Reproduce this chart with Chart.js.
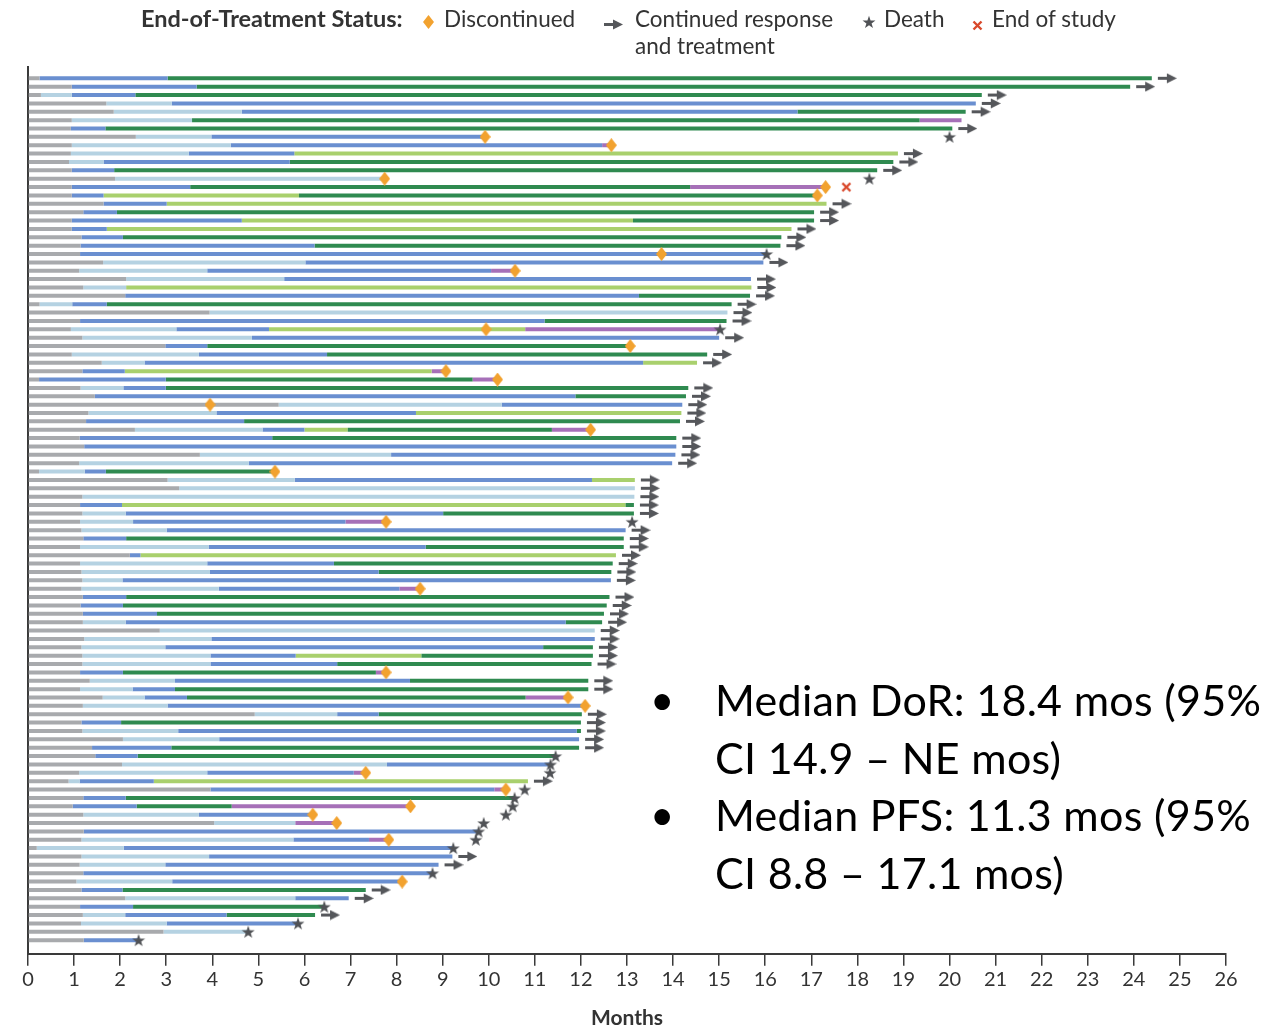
<!DOCTYPE html>
<html>
<head>
<meta charset="utf-8">
<script src="https://cdn.jsdelivr.net/npm/chart.js@4.4.1/dist/chart.umd.min.js"></script>
<style>
  body { margin: 0; background: #fff; }
  #wrap { position: relative; width: 1261px; height: 1031px; overflow: hidden; font-family: Lato, sans-serif; color: #333; }
  #swim { position: absolute; left: 0; top: 0; }
  .lg { position: absolute; font-size: 22.5px; line-height: 27px; white-space: nowrap; }
  .ico { position: absolute; }
  .note { position: absolute; left: 715px; top: 671px; font-size: 43px; letter-spacing: 0.3px; line-height: 57.5px; color: #000; white-space: nowrap; }
  .dot { position: absolute; left: 650px; font-size: 42px; line-height: 57.5px; color: #000; }
</style>
</head>
<body>
<div id="wrap">
  <canvas id="swim" width="1261" height="1031"></canvas>

  <div class="lg" style="left:141px;top:5px;font-weight:700;font-size:23.5px">End-of-Treatment Status:</div>
  <span class="ico" id="icoDisc" style="left:423px;top:13px"></span>
  <div class="lg" style="left:444px;top:5px">Discontinued</div>
  <span class="ico" id="icoCont" style="left:604px;top:14px"></span>
  <div class="lg" style="left:635px;top:5px">Continued response<br>and treatment</div>
  <span class="ico" id="icoDeath" style="left:862px;top:13px"></span>
  <div class="lg" style="left:884px;top:5px">Death</div>
  <span class="ico" id="icoEos" style="left:972px;top:15px"></span>
  <div class="lg" style="left:992px;top:5px">End of study</div>

  <div class="dot" style="top:671px">•</div>
  <div class="dot" style="top:786px">•</div>
  <div class="note">Median DoR: 18.4 mos (95%<br>CI 14.9 – NE mos)<br>Median PFS: 11.3 mos (95%<br>CI 8.8 – 17.1 mos)</div>
</div>

<script>
// one string per patient, top to bottom: phase code + month where that phase ends
// a grey, l light blue, b blue, g dark green, y light green, p purple
const phases = [
  "a0.25 b3.03 g24.39",
  "a0.95 b3.66 g23.92",
  "a0.28 l0.95 b2.33 g20.7",
  "a1.70 l3.12 b20.57",
  "a1.86 l4.64 b16.7 g20.35",
  "a0.95 l3.56 g19.35 p20.26",
  "a0.93 b1.68 g20.06",
  "a2.34 l3.98 b9.92",
  "a0.95 l4.4 b12.46 p12.66",
  "a0.93 l3.49 b5.78 y18.88",
  "a0.89 l1.64 b5.68 g18.78",
  "a0.95 b1.87 g18.43",
  "a1.89 l7.74",
  "a0.95 b3.52 g14.37 p17.31",
  "a0.95 b1.64 y5.88 g17.13",
  "a1.64 b3.01 y17.33",
  "a1.2 b1.93 g17.06",
  "a0.95 b4.64 y13.13 g17.06",
  "a0.95 b1.71 y16.57",
  "a1.16 b2.06 g16.35",
  "a1.14 b6.22 g16.33",
  "a1.13 b16.03",
  "a1.63 l6.02 b15.96",
  "a1.11 l3.89 b10.05 p10.57",
  "a2.13 l5.56 b15.69",
  "a1.2 l2.13 y15.7",
  "a2.11 b13.26 g15.67",
  "a0.25 l0.96 b1.71 g15.27",
  "a3.94 l15.18",
  "a1.13 b11.21 g15.16",
  "a0.93 l3.22 b5.23 y10.79 p15.02",
  "a1.18 l4.86 b15.0",
  "a2.98 b3.89 g13.07",
  "a0.95 l3.71 b6.49 g14.74",
  "a1.6 l2.53 b13.35 y14.52",
  "a1.18 b2.1 y8.76 p9.07",
  "a0.24 b2.99 g9.65 p10.19",
  "a1.14 l2.07 b2.99 g14.33",
  "a1.45 b11.88 g14.28",
  "a5.44 l10.28 b14.2",
  "a1.31 l4.09 b8.42 y14.18",
  "a1.26 b4.69 g14.15",
  "a2.32 l5.09 b6.0 y6.94 g11.37 p12.21",
  "a1.12 b5.3 g14.07",
  "a1.22 b14.07",
  "a3.73 l7.88 b14.05",
  "a1.11 l4.79 b13.98",
  "a0.24 l1.23 b1.69 g5.36",
  "a3.03 l5.79 b12.24 y13.17",
  "a3.28 l13.17",
  "a1.18 l13.16",
  "a1.13 b2.04 y12.97 g13.15",
  "a1.18 l2.12 b9.01 g13.15",
  "a1.13 l2.28 b6.89 p7.77",
  "a1.16 l3.01 b12.97",
  "a1.2 b2.13 g12.93",
  "a1.13 l3.92 b8.63 g12.93",
  "a2.21 b2.44 y12.76",
  "a1.13 l3.89 b6.64 g12.69",
  "a1.16 l3.95 b7.61 g12.66",
  "a1.18 l2.05 b12.65",
  "a1.16 l4.14 b8.06 p8.51",
  "a1.19 b2.13 g12.62",
  "a1.14 b2.06 g12.56",
  "a1.19 b2.8 g12.5",
  "a1.19 l2.12 b11.67 g12.46",
  "a2.86 l12.3",
  "a1.22 l3.98 b12.3",
  "a1.16 l2.98 b11.18 g12.26",
  "a1.18 l3.96 b5.81 y8.54 g12.26",
  "a1.18 l3.96 b6.71 g12.23",
  "a1.13 b2.06 g7.55 p7.77",
  "a1.34 l3.19 b8.29 g12.16",
  "a1.13 l2.27 b3.19 g12.16",
  "a1.62 l2.53 b3.45 g10.8 p11.72",
  "a1.19 l3.03 b12.09",
  "a4.92 l6.71 b7.61 g12.02",
  "a1.16 b2.02 g12.0",
  "a1.18 l3.26 b11.91 g12.0",
  "a2.06 l4.15 b11.96",
  "a1.39 b3.11 g11.96",
  "a1.46 b2.38 g11.45",
  "a2.04 l7.79 b11.34",
  "a1.11 l3.89 b7.07 p7.33",
  "a0.88 l1.12 b2.73 y10.85",
  "a3.96 b10.12 p10.37",
  "a1.2 b2.12 g10.56",
  "a0.97 b2.36 g4.42 p8.3",
  "a1.2 l3.71 b6.18",
  "a4.04 l5.8 p6.7",
  "a1.21 b9.78",
  "a1.16 l5.76 b7.4 p7.83",
  "a0.19 l2.08 b9.23",
  "a1.16 l3.93 b9.21",
  "a1.12 l2.98 b8.91",
  "a1.2 b8.78",
  "a1.05 l3.13 b8.12",
  "a1.16 b2.05 g7.33",
  "a2.11 l5.8 b6.96",
  "a1.13 b2.28 g6.43",
  "a1.19 l2.11 b4.31 g6.23",
  "a1.15 l3.01 b5.86",
  "a2.94 l4.78",
  "a1.21 b2.4"
];

// rows (0 = top) that end with an arrow at the end of the bar
const continued = [0, 1, 2, 3, 4, 6, 9, 10, 11, 15, 16, 17, 18, 19, 20, 22, 24, 25, 26, 27, 28, 29,
  31, 33, 34, 37, 38, 39, 40, 41, 43, 44, 45, 46, 48, 49, 50, 51, 52, 54, 55, 56, 57, 58, 59, 60,
  62, 63, 64, 65, 66, 67, 68, 69, 70, 72, 73, 76, 77, 78, 79, 80, 84, 93, 94, 97, 98, 100];

// [row, month]
const discontinued = [[7, 9.92], [8, 12.66], [12, 7.74], [13, 17.31], [14, 17.13], [21, 13.75],
  [23, 10.57], [30, 9.94], [32, 13.07], [35, 9.07], [36, 10.19], [39, 3.95], [42, 12.21], [47, 5.36],
  [53, 7.77], [61, 8.51], [71, 7.77], [74, 11.72], [75, 12.09], [83, 7.33], [85, 10.37], [87, 8.3],
  [88, 6.18], [89, 6.7], [91, 7.83], [96, 8.12]];
const deaths = [[7, 20.0], [12, 18.26], [21, 16.03], [30, 15.02], [53, 13.11], [81, 11.45], [82, 11.34],
  [83, 11.33], [85, 10.78], [86, 10.56], [87, 10.52], [88, 10.37], [89, 9.89], [90, 9.78], [91, 9.72],
  [92, 9.23], [95, 8.78], [99, 6.43], [101, 5.86], [102, 4.78], [103, 2.4]];
const endOfStudy = [[13, 17.76]];

const monthTicks = [0, 26];

const colours = { a: "#a8aaad", l: "#b5d2e2", b: "#6a8fd0", g: "#2f8a50", y: "#a9d06d", p: "#a670b8" };
const codes = ["a", "l", "b", "g", "y", "p"];

// marker images
function arrowImg(gap) {
  const c = document.createElement("canvas");
  const len = 19;
  c.width = 2 * (gap + len); c.height = 11;
  const g = c.getContext("2d");
  const x0 = c.width / 2 + gap;
  g.fillStyle = "#55575b";
  g.fillRect(x0, 4, 11, 3);
  g.beginPath(); g.moveTo(x0 + 9, 0.5); g.lineTo(x0 + len, 5.5); g.lineTo(x0 + 9, 10.5); g.closePath(); g.fill();
  return c;
}
function diamondImg() {
  const c = document.createElement("canvas");
  c.width = 11; c.height = 14;
  const g = c.getContext("2d");
  g.fillStyle = "#f2a22f";
  g.beginPath(); g.moveTo(5.5, 0); g.lineTo(11, 7); g.lineTo(5.5, 14); g.lineTo(0, 7); g.closePath(); g.fill();
  return c;
}
function starImg() {
  const c = document.createElement("canvas");
  c.width = 14; c.height = 14;
  const g = c.getContext("2d");
  g.fillStyle = "#505256";
  g.beginPath();
  for (let i = 0; i < 10; i++) {
    const r = i % 2 ? 2.7 : 6.8;
    const a = -Math.PI / 2 + i * Math.PI / 5;
    g.lineTo(7 + r * Math.cos(a), 7.6 + r * Math.sin(a));
  }
  g.closePath(); g.fill();
  return c;
}
function crossImg() {
  const c = document.createElement("canvas");
  c.width = 11; c.height = 11;
  const g = c.getContext("2d");
  g.strokeStyle = "#d9482b"; g.lineWidth = 2.4;
  g.beginPath(); g.moveTo(1.5, 1.5); g.lineTo(9.5, 9.5); g.moveTo(9.5, 1.5); g.lineTo(1.5, 9.5); g.stroke();
  return c;
}

document.getElementById("icoDisc").appendChild(diamondImg());
document.getElementById("icoCont").appendChild(arrowImg(0)).style.marginLeft = "-19px";
document.getElementById("icoDeath").appendChild(starImg());
document.getElementById("icoEos").appendChild(crossImg());

// build one floating-bar dataset per phase colour
const barSets = codes.map(k => ({
  type: "bar",
  indexAxis: "y",
  data: [],
  backgroundColor: colours[k],
  borderWidth: 0,
  borderSkipped: false,
  grouped: false,
  maxBarThickness: 4,
  order: 2
}));
const barEnd = [];
phases.forEach((row, i) => {
  let start = 0;
  row.split(" ").forEach(seg => {
    const end = parseFloat(seg.slice(1));
    barSets[codes.indexOf(seg[0])].data.push({ x: [start, end], y: i });
    start = end;
  });
  barEnd[i] = start;
});

const markerSet = (pairs, img) => ({
  type: "scatter",
  data: pairs.map(([row, m]) => ({ x: m, y: row })),
  pointStyle: img,
  pointRadius: 6,
  order: 0
});

const ctx = document.getElementById("swim");
Chart.defaults.font.family = "Lato, sans-serif";
Chart.defaults.color = "#333";

new Chart(ctx, {
  type: "bar",
  data: {
    datasets: [
      markerSet(continued.map(r => [r, barEnd[r]]), arrowImg(6)),
      markerSet(discontinued, diamondImg()),
      markerSet(deaths, starImg()),
      markerSet(endOfStudy, crossImg()),
      ...barSets
    ]
  },
  options: {
    responsive: false,
    animation: false,
    events: [],
    layout: { padding: { left: 28, right: 35, top: 67, bottom: 0 } },
    plugins: { legend: { display: false }, tooltip: { enabled: false } },
    scales: {
      x: {
        type: "linear",
        position: "bottom",
        offset: false,
        min: monthTicks[0],
        max: monthTicks[1],
        ticks: { stepSize: 1, font: { size: 20 }, color: "#333", padding: 2 },
        grid: { offset: false, drawOnChartArea: false, drawTicks: true, tickLength: 12, color: "#3a3a3a", lineWidth: 1.5 },
        border: { display: true, color: "#3a3a3a", width: 2 },
        title: { display: true, text: "Months", font: { size: 21, weight: "bold" }, color: "#333", padding: { top: 12, bottom: 0 } }
      },
      y: {
        type: "linear",
        reverse: true,
        offset: false,
        min: -1.35,
        max: 104.63,
        ticks: { display: false },
        grid: { display: false, offset: false, drawTicks: false },
        border: { display: true, color: "#3a3a3a", width: 2 }
      }
    }
  }
});
</script>
</body>
</html>
